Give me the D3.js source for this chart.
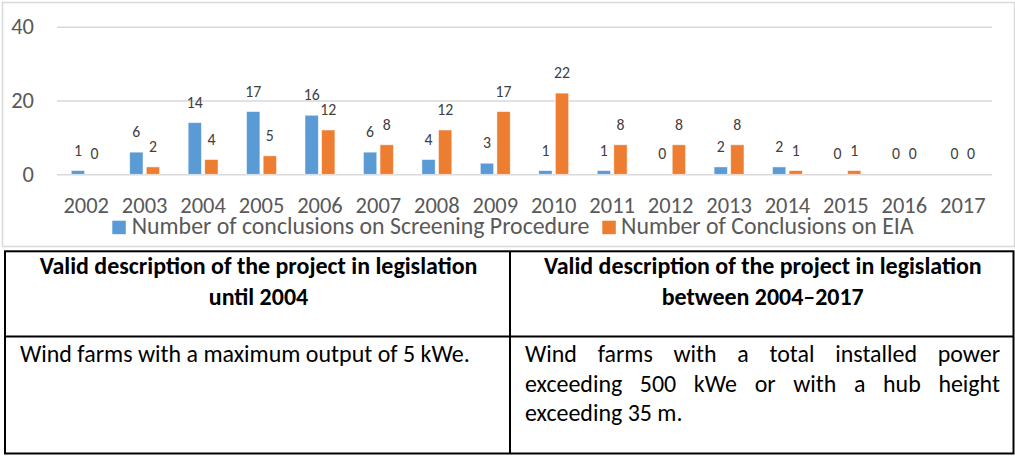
<!DOCTYPE html>
<html>
<head>
<meta charset="utf-8">
<script src="https://cdn.jsdelivr.net/npm/d3@7"></script>
<style>
  body { margin: 0; background: #fff; }
  svg { display: block; }
  text { font-family: Carlito, Lato, "Open Sans", sans-serif; }
</style>
</head>
<body>
<svg id="fig" width="1015" height="456"></svg>
<script>
// Conclusions issued per year
const years = ["2002","2003","2004","2005","2006","2007","2008","2009","2010","2011","2012","2013","2014","2015","2016","2017"];
const screening = [1, 6, 14, 17, 16, 6, 4, 3, 1, 1, 0, 2, 2, 0, 0, 0];
const eia       = [0, 2, 4, 5, 12, 8, 12, 17, 22, 8, 8, 8, 1, 1, 0, 0];
const yTicks = [0, 20, 40];
const seriesNames = ["Number of conclusions on Screening Procedure", "Number of Conclusions on EIA"];
const seriesColors = ["#5B9BD5", "#ED7D31"];

// Legislation comparison table
const headerLeft  = ["Valid description of the project in legislation", "until 2004"];
const headerRight = ["Valid description of the project in legislation", "between 2004\u20132017"];
const bodyLeft  = ["Wind farms with a maximum output of 5 kWe."];
const bodyRight = ["Wind farms with a total installed power", "exceeding 500 kWe or with a hub height", "exceeding 35 m."];

const svg = d3.select("#fig");

// font size that gives a string the wanted width
function sizeFor(str, width, weight) {
  const t = svg.append("text").style("font-size", "100px").style("font-weight", weight || "normal").text(str);
  const w = t.node().getComputedTextLength();
  t.remove();
  return 100 * width / w;
}
function measure(str, size, weight) {
  const t = svg.append("text").style("font-size", size + "px").style("font-weight", weight || "normal").text(str);
  const w = t.node().getComputedTextLength();
  t.remove();
  return w;
}

const axisFs  = sizeFor("2002", 45.6);
const labelFs = sizeFor("14", 16);
const legendFs = sizeFor(seriesNames[0], 458);
const headFs = sizeFor(headerLeft[0], 438, "bold");
const bodyFs = sizeFor(bodyLeft[0], 450);

// ---------- chart ----------
svg.append("rect")
  .attr("x", 2.5).attr("y", 2.5).attr("width", 1012).attr("height", 244)
  .attr("fill", "#fff").attr("stroke", "#d9d9d9").attr("stroke-width", 1.5);

const x = d3.scaleBand().domain(years).range([57, 992]);
const y = d3.scaleLinear().domain([0, 40]).range([174.3, 26.7]);

const barW = 13.3, gap = 3.3;

// gridlines + y labels
const yAxis = svg.append("g")
  .attr("transform", "translate(57,0)")
  .call(d3.axisLeft(y).tickValues(yTicks).tickSize(-(992 - 57)).tickPadding(23).tickFormat(d3.format("d")));
yAxis.select(".domain").remove();
yAxis.selectAll(".tick line").attr("stroke", "#d9d9d9").attr("stroke-width", 1.5);
yAxis.selectAll(".tick text").attr("fill", "#595959").style("font-size", axisFs + "px");

// x labels
const xAxis = svg.append("g")
  .attr("transform", `translate(0,${y(0)})`)
  .call(d3.axisBottom(x).tickSize(0));
xAxis.select(".domain").remove();
xAxis.selectAll(".tick text")
  .attr("y", 213 - y(0)).attr("dy", null)
  .attr("fill", "#595959").style("font-size", axisFs + "px");

const series = [screening, eia];
series.forEach((vals, si) => {
  const off = si === 0 ? -gap / 2 - barW : gap / 2;
  const g = svg.append("g");
  g.selectAll("rect").data(vals).join("rect")
    .attr("x", (d, i) => x(years[i]) + x.bandwidth() / 2 + off)
    .attr("y", d => y(d))
    .attr("width", barW)
    .attr("height", d => y(0) - y(d))
    .attr("fill", seriesColors[si])
    .attr("stroke", "#fff").attr("stroke-opacity", 0.6).attr("stroke-width", 0.8);
  g.selectAll("text").data(vals).join("text")
    .attr("x", (d, i) => x(years[i]) + x.bandwidth() / 2 + off + barW / 2)
    .attr("y", d => y(d) - 15)
    .attr("text-anchor", "middle")
    .attr("fill", "#404040")
    .style("font-size", labelFs + "px")
    .text(d => d);
});

// legend
const legendItems = [
  { sx: 112.3, tx: 131.7 },
  { sx: 602.3, tx: 621 }
];
legendItems.forEach((it, i) => {
  svg.append("rect")
    .attr("x", it.sx).attr("y", 220.7).attr("width", 13.5).attr("height", 13.5)
    .attr("fill", seriesColors[i]);
  svg.append("text")
    .attr("x", it.tx).attr("y", 234)
    .attr("fill", "#595959").style("font-size", legendFs + "px")
    .text(seriesNames[i]);
});

// ---------- table ----------
const T = { left: 5, right: 1013.5, top: 251.3, mid: 336.5, bottom: 453.5, col: 510 };
const tg = svg.append("g").attr("stroke", "#000").attr("stroke-width", 2).attr("fill", "none");
tg.append("rect").attr("x", T.left).attr("y", T.top)
  .attr("width", T.right - T.left).attr("height", T.bottom - T.top);
tg.append("line").attr("x1", T.col).attr("x2", T.col).attr("y1", T.top).attr("y2", T.bottom);
tg.append("line").attr("x1", T.left).attr("x2", T.right).attr("y1", T.mid).attr("y2", T.mid);

// headers (bold, centred)
[[headerLeft, (T.left + T.col) / 2 + 1], [headerRight, (T.col + T.right) / 2 + 1]].forEach(([lines, cx]) => {
  lines.forEach((ln, k) => {
    svg.append("text")
      .attr("x", cx).attr("y", 274.3 + k * 30.5)
      .attr("text-anchor", "middle")
      .attr("fill", "#000").style("font-size", headFs + "px").style("font-weight", "bold")
      .text(ln);
  });
});

// left body
const bodyY = 362, bodyLead = 29.5;
svg.append("text")
  .attr("x", 20).attr("y", bodyY)
  .attr("fill", "#000").style("font-size", bodyFs + "px")
  .text(bodyLeft[0]);

// right body: justified lines, last line left-aligned
const jx0 = 525, jx1 = 1000;
bodyRight.forEach((ln, k) => {
  const yy = bodyY + k * bodyLead;
  if (k < bodyRight.length - 1) {
    const words = ln.split(" ");
    const widths = words.map(w => measure(w, bodyFs));
    const space = (jx1 - jx0 - d3.sum(widths)) / (words.length - 1);
    let cx = jx0;
    words.forEach((w, i) => {
      svg.append("text").attr("x", cx).attr("y", yy)
        .attr("fill", "#000").style("font-size", bodyFs + "px").text(w);
      cx += widths[i] + space;
    });
  } else {
    svg.append("text").attr("x", jx0).attr("y", yy)
      .attr("fill", "#000").style("font-size", bodyFs + "px")
      .text(ln);
  }
});
</script>
</body>
</html>
